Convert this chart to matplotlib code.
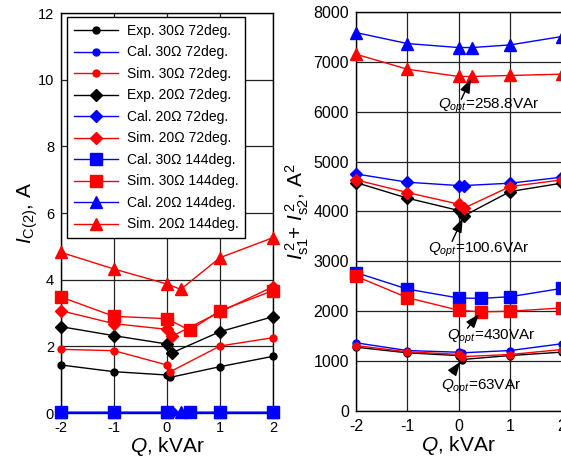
import matplotlib
matplotlib.use("Agg")
from matplotlib import pyplot as plt

plt.rcParams['font.family'] = ['Liberation Sans', 'DejaVu Sans']
plt.rcParams['mathtext.fontset'] = 'custom'
plt.rcParams['mathtext.rm'] = 'Liberation Sans'
plt.rcParams['mathtext.it'] = 'Liberation Sans:italic'
plt.rcParams['mathtext.default'] = 'it'
plt.rcParams['axes.unicode_minus'] = False

# Q (kVAr) positions, each series includes its optimum point
q_30_72 = [-2, -1, 0, 0.063, 1, 2]
q_20_72 = [-2, -1, 0, 0.1006, 1, 2]
q_30_144 = [-2, -1, 0, 0.43, 1, 2]
q_20_144 = [-2, -1, 0, 0.2588, 1, 2]

# left panel: I_C(2), A
ic_exp_30_72 = [1.44, 1.24, 1.14, 1.07, 1.39, 1.70]
ic_cal_30_72 = [0.04, 0.04, 0.04, 0.04, 0.04, 0.04]
ic_sim_30_72 = [1.91, 1.87, 1.44, 1.24, 2.01, 2.26]
ic_exp_20_72 = [2.59, 2.32, 2.07, 1.81, 2.44, 2.89]
ic_cal_20_72 = [0.04, 0.04, 0.04, 0.04, 0.04, 0.04]
ic_sim_20_72 = [3.07, 2.68, 2.51, 2.31, 3.03, 3.79]
ic_cal_30_144 = [0.04, 0.04, 0.04, 0.04, 0.04, 0.04]
ic_sim_30_144 = [3.48, 2.90, 2.83, 2.48, 3.07, 3.67]
ic_cal_20_144 = [0.04, 0.04, 0.04, 0.04, 0.04, 0.04]
ic_sim_20_144 = [4.82, 4.32, 3.87, 3.71, 4.66, 5.26]

# right panel: Is1^2 + Is2^2, A^2
is_exp_30_72 = [1279, 1166, 1110, 1032, 1112, 1179]
is_cal_30_72 = [1367, 1212, 1178, 1166, 1212, 1347]
is_sim_30_72 = [1312, 1186, 1135, 1090, 1132, 1232]
is_exp_20_72 = [4580, 4267, 4020, 3913, 4400, 4567]
is_cal_20_72 = [4753, 4587, 4520, 4520, 4567, 4687]
is_sim_20_72 = [4633, 4380, 4147, 4067, 4500, 4633]
is_cal_30_144 = [2775, 2444, 2265, 2258, 2291, 2457]
is_sim_30_144 = [2702, 2272, 2020, 1987, 2000, 2066]
is_cal_20_144 = [7587, 7367, 7287, 7287, 7340, 7507]
is_sim_20_144 = [7153, 6853, 6707, 6707, 6727, 6753]

labels = ['Exp. 30Ω 72deg.', 'Cal. 30Ω 72deg.', 'Sim. 30Ω 72deg.',
          'Exp. 20Ω 72deg.', 'Cal. 20Ω 72deg.', 'Sim. 20Ω 72deg.',
          'Cal. 30Ω 144deg.', 'Sim. 30Ω 144deg.',
          'Cal. 20Ω 144deg.', 'Sim. 20Ω 144deg.']
colors = ['black', 'blue', 'red', 'black', 'blue', 'red', 'blue', 'red', 'blue', 'red']
markers = ['o', 'o', 'o', 'D', 'D', 'D', 's', 's', '^', '^']
msizes = [5, 5, 5, 6, 6, 6, 8, 8, 8, 8]
qs = [q_30_72] * 3 + [q_20_72] * 3 + [q_30_144] * 2 + [q_20_144] * 2

left_data = [ic_exp_30_72, ic_cal_30_72, ic_sim_30_72, ic_exp_20_72, ic_cal_20_72,
             ic_sim_20_72, ic_cal_30_144, ic_sim_30_144, ic_cal_20_144, ic_sim_20_144]
right_data = [is_exp_30_72, is_cal_30_72, is_sim_30_72, is_exp_20_72, is_cal_20_72,
              is_sim_20_72, is_cal_30_144, is_sim_30_144, is_cal_20_144, is_sim_20_144]

# optimum annotations: point, arrow tail, text position
opt_pts = [(0.2588, 6707), (0.1006, 3913), (0.43, 1987), (0.063, 1032)]
opt_tails = [(0.05, 6250), (-0.13, 3400), (0.17, 1660), (-0.13, 760)]
opt_texts = ['$Q_{opt}$=258.8VAr', '$Q_{opt}$=100.6VAr', '$Q_{opt}$=430VAr', '$Q_{opt}$=63VAr']
opt_text_pos = [(0.59, 6120), (0.39, 3230), (0.63, 1490), (0.43, 490)]

fig = plt.figure(figsize=(5.61, 4.61), dpi=100)
ax1 = fig.add_axes([0.1087, 0.1041, 0.3779, 0.8677])
ax2 = fig.add_axes([0.6346, 0.1085, 0.3663, 0.8655])

for ax, data, fs in ((ax1, left_data, 10.5), (ax2, right_data, 11.5)):
    for i in range(len(labels)):
        ax.plot(qs[i], data[i], color=colors[i], marker=markers[i], markersize=msizes[i],
                linewidth=1, label=labels[i], clip_on=False, zorder=3)
    ax.set_xlim(-2, 2)
    ax.set_xticks([-2, -1, 0, 1, 2])
    ax.grid(True, color='#222222', linewidth=0.9)
    ax.tick_params(direction='in', length=0, labelsize=fs)
    ax.tick_params(axis='x', pad=6)
    ax.tick_params(axis='y', pad=5)
    for s in ax.spines.values():
        s.set_linewidth(1)
    ax.set_xlabel('$Q$, kVAr', fontsize=15, labelpad=0)
    ax.set_axisbelow(True)

ax1.set_ylim(0, 12)
ax1.set_yticks(range(0, 13, 2))
ax1.set_ylabel(r'$I_{\mathrm{C(2)}}$, A', fontsize=15, labelpad=-2)

ax2.set_ylim(0, 8000)
ax2.set_yticks(range(0, 8001, 1000))
ax2.set_ylabel(r'$I_{\mathrm{s1}}^{\,2}$+ $I_{\mathrm{s2}}^{\,2}$, A$^{\mathrm{2}}$', fontsize=15, labelpad=2)

leg = ax1.legend(loc='upper left', bbox_to_anchor=(0.028, 0.99), borderaxespad=0, fontsize=10,
                 handlelength=3.2, labelspacing=0.54, borderpad=0.5, handletextpad=0.6,
                 fancybox=False, edgecolor='black', framealpha=1)
leg.get_frame().set_linewidth(1)

for i in range(len(opt_texts)):
    ax2.annotate('', xy=opt_pts[i], xytext=opt_tails[i],
                 arrowprops=dict(arrowstyle='-|>,head_length=0.6,head_width=0.22', color='black',
                                 lw=1, shrinkA=0, shrinkB=2, mutation_scale=14), zorder=5)
    ax2.text(opt_text_pos[i][0], opt_text_pos[i][1], opt_texts[i], fontsize=11,
             ha='center', va='center', zorder=5)

fig.savefig('out.png', dpi=100)
